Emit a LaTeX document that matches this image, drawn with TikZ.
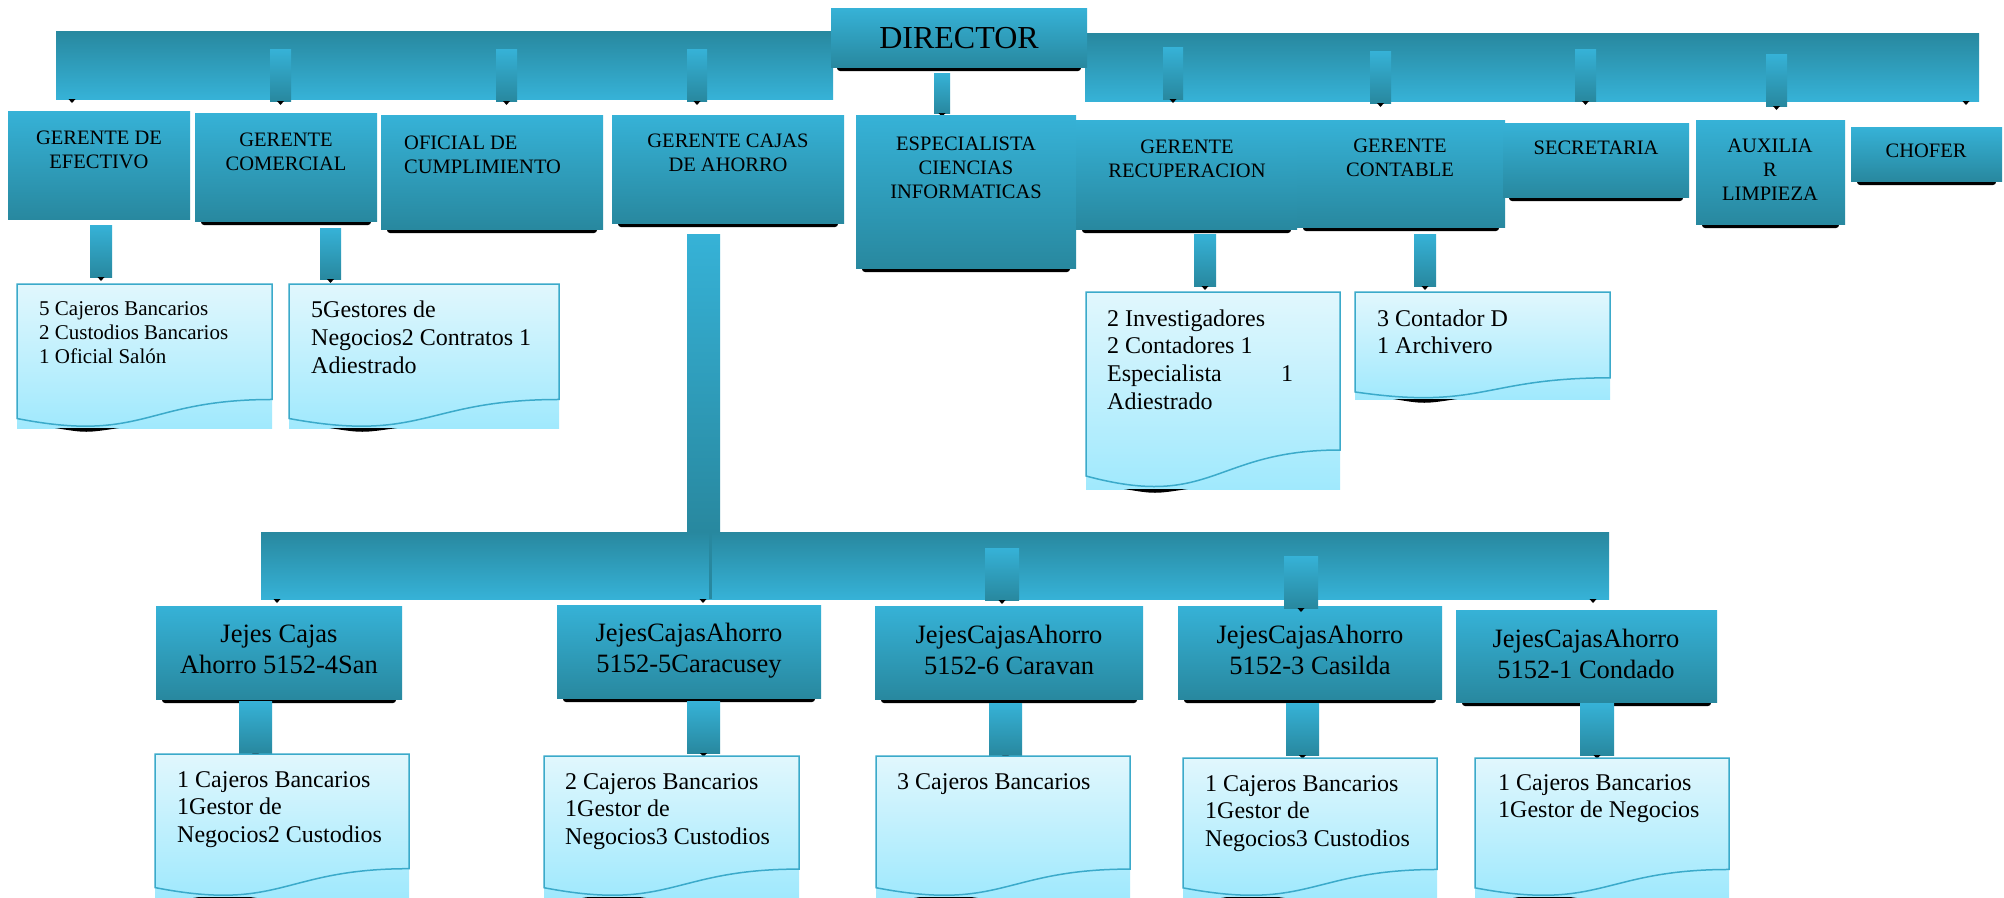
\documentclass[tikz,border=0pt]{standalone}
\usepackage{fontspec}
\setmainfont{Liberation Serif}
\definecolor{cl}{HTML}{36B2D7}
\definecolor{cd}{HTML}{28889F}
\definecolor{dl}{HTML}{E1F7FD}
\definecolor{dd}{HTML}{A0E9FD}
\definecolor{dline}{HTML}{3BAACA}
\newcommand\boxsh[4]{\fill[black,rounded corners=3pt] (#1+6,#4-6) rectangle (#3-6,#4+4);
  \shade[top color=cl,bottom color=cd] (#1,#2) rectangle (#3,#4);}
\newcommand\boxpl[4]{\shade[top color=cl,bottom color=cd] (#1,#2) rectangle (#3,#4);}
\newcommand\mybar[4]{\shade[top color=cd,bottom color=cl] (#1,#2) rectangle (#3,#4);}
\newcommand\mystub[4]{\shade[top color=cl,bottom color=cd] (#1,#2) rectangle (#3,#4);}
\newcommand\mytip[2]{\fill[black] (#1-3.5,#2) -- (#1+3.5,#2) -- (#1,#2+4) -- cycle;}
\newcommand\mydoc[4]{%
  \pgfmathsetmacro\docH{#4-#2}\pgfmathsetmacro\docM{(#1+#3)/2}\pgfmathsetmacro\docW{#3-#1}%
  \shade[top color=dl,bottom color=dd] (#1,#2) rectangle (#3,#4);
  \fill[black] (#1+0.15*\docW,#4) .. controls (#1+0.27*\docW,#4+5) .. (#1+0.40*\docW,#4) -- cycle;
  \draw[dline,line width=1.5pt] (#1,#2) -- (#3,#2) -- (#3,#2+0.802*\docH) .. controls (\docM,#2+0.802*\docH) and (\docM,#2+1.1075*\docH) .. (#1,#2+0.934*\docH) -- cycle;}
\tikzset{
  toplbl/.style={inner sep=0pt,anchor=base,font={\fontsize{20.5}{24}\selectfont}},
  jlbl/.style={inner sep=0pt,anchor=base,font={\fontsize{26.5}{31}\selectfont}},
  doclbl/.style={inner sep=0pt,anchor=base west,font={\fontsize{24}{27.7}\selectfont}},
}
\begin{document}
\begin{tikzpicture}[x=1pt,y=-1pt]
\useasboundingbox (0,0) rectangle (2004,897);
\fill[white] (0,0) rectangle (2004,897);
% top bars
\mybar{56}{31}{833}{99}
\mybar{1085}{33}{1979}{101}
\mystub{270}{49}{291}{101}\mytip{280.5}{101}
\mystub{496}{49}{517}{101}\mytip{506.5}{101}
\mystub{687}{49}{707}{101}\mytip{697}{101}
\mytip{72}{99}
\mystub{1163}{47}{1183}{99}\mytip{1173}{99}
\mystub{1370}{51}{1391}{103}\mytip{1380.5}{103}
\mystub{1575}{49}{1596}{101}\mytip{1585.5}{101}
\mystub{1766}{54}{1787}{106}\mytip{1776.5}{106}
\mytip{1966}{101}
% director
\boxsh{831}{8}{1087}{67}
\node[inner sep=0pt,anchor=base,font={\fontsize{32}{36}\selectfont}] (dir) at (959,48) {DIRECTOR};
\mystub{934}{73}{950}{113}\mytip{942}{113}
% top row boxes
\boxpl{8}{111}{190}{219}
\boxsh{195}{113}{377}{221}
\boxsh{381}{115}{603}{229}
\boxsh{612}{115}{844}{223}
\boxsh{856}{115}{1076}{268}
\boxsh{1076}{120}{1297}{229}
\boxsh{1297}{120}{1505}{227}
\boxsh{1503}{123}{1689}{197}
\boxsh{1696}{120}{1845}{224}
\boxsh{1851}{127}{2002}{181}
\node[toplbl] (efe) at (99,144) {\parbox[t]{200pt}{\centering GERENTE DE\\EFECTIVO}};
\node[toplbl] (com) at (286,146) {\parbox[t]{200pt}{\centering GERENTE\\COMERCIAL}};
\node[toplbl,anchor=base west] (ofi) at (404,149) {\parbox[t]{200pt}{\raggedright OFICIAL DE\\CUMPLIMIENTO}};
\node[toplbl] (caj) at (728,147) {\parbox[t]{220pt}{\centering GERENTE CAJAS\\DE AHORRO}};
\node[toplbl] (esp) at (966,150) {\parbox[t]{220pt}{\centering ESPECIALISTA\\CIENCIAS\\INFORMATICAS}};
\node[toplbl] (rec) at (1187,153) {\parbox[t]{220pt}{\centering GERENTE\\RECUPERACION}};
\node[toplbl] (con) at (1400,152) {\parbox[t]{200pt}{\centering GERENTE\\CONTABLE}};
\node[toplbl] (sec) at (1596,154) {SECRETARIA};
\node[toplbl] (aux) at (1770,152) {\parbox[t]{150pt}{\centering AUXILIA\\R\\LIMPIEZA}};
\node[toplbl] (cho) at (1926,157) {CHOFER};
% level 2 stubs
\mystub{90}{225}{112}{277}\mytip{101}{277}
\mystub{320}{228}{341}{279}\mytip{330.5}{279}
\mystub{1194}{234}{1216}{286}\mytip{1205}{286}
\mystub{1414}{234}{1436}{286}\mytip{1425}{286}
% docs upper
\mydoc{17}{284}{272}{428}
\mydoc{289}{284}{559}{428}
\mydoc{1086}{292}{1340}{489}
\mydoc{1355}{292}{1610}{399}
\node[doclbl,font={\fontsize{21}{24}\selectfont}] (d1) at (39,315) {\parbox[t]{230pt}{\raggedright 5 Cajeros Bancarios\\2 Custodios Bancarios\\1 Oficial Salón}};
\node[doclbl,font={\fontsize{24}{28}\selectfont}] (d2) at (311,317) {\parbox[t]{240pt}{\raggedright 5Gestores de\\Negocios2 Contratos 1\\Adiestrado}};
\node[doclbl] (d3) at (1107,326) {\parbox[t]{186pt}{2 Investigadores\\2 Contadores 1\\Especialista\hfill 1\\Adiestrado}};
\node[doclbl] (d4) at (1377,326) {\parbox[t]{220pt}{\raggedright 3 Contador D\\1 Archivero}};
% cajas connector and bottom bar
\mystub{687}{234}{720}{532}
\mybar{261}{532}{1609}{599}
\fill[cd] (709,532) rectangle (712,599);
\mytip{703}{599}
\mytip{277}{599}
\mytip{1593}{599}
\mystub{985}{548}{1019}{600}\mytip{1002}{600}
% jejes boxes
\boxsh{156}{606}{402}{699}
\boxsh{557}{605}{821}{698}
\boxsh{875}{606}{1143}{699}
\boxsh{1178}{606}{1442}{699}
\boxsh{1456}{610}{1717}{702}
\mystub{1284}{556}{1318}{608}\mytip{1301}{608}
\node[jlbl] (j1) at (279,642) {\parbox[t]{260pt}{\centering Jejes Cajas\\Ahorro 5152-4San}};
\node[jlbl] (j2) at (689,641) {\parbox[t]{260pt}{\centering JejesCajasAhorro\\5152-5Caracusey}};
\node[jlbl] (j3) at (1009,643) {\parbox[t]{260pt}{\centering JejesCajasAhorro\\5152-6 Caravan}};
\node[jlbl] (j4) at (1310,643) {\parbox[t]{260pt}{\centering JejesCajasAhorro\\5152-3 Casilda}};
\node[jlbl] (j5) at (1586,647) {\parbox[t]{260pt}{\centering JejesCajasAhorro\\5152-1 Condado}};
% level 3 stubs
\mystub{239}{701}{272}{753}\mytip{255.5}{753}
\mystub{687}{701}{720}{753}\mytip{703.5}{753}
\mystub{989}{703}{1022}{755}\mytip{1005.5}{755}
\mystub{1286}{703}{1319}{755}\mytip{1302.5}{755}
\mystub{1580}{703}{1614}{755}\mytip{1597}{755}
% bottom docs
\mydoc{155}{754}{409}{897}
\mydoc{544}{756}{799}{897}
\mydoc{876}{756}{1130}{897}
\mydoc{1183}{758}{1437}{897}
\mydoc{1475}{758}{1729}{897}
\node[doclbl] (d5) at (177,787) {\parbox[t]{240pt}{\raggedright 1 Cajeros Bancarios\\1Gestor de\\Negocios2 Custodios}};
\node[doclbl] (d6) at (565,789) {\parbox[t]{240pt}{\raggedright 2 Cajeros Bancarios\\1Gestor de\\Negocios3 Custodios}};
\node[doclbl] (d7) at (897,789) {\parbox[t]{240pt}{\raggedright 3 Cajeros Bancarios}};
\node[doclbl] (d8) at (1205,791) {\parbox[t]{240pt}{\raggedright 1 Cajeros Bancarios\\1Gestor de\\Negocios3 Custodios}};
\node[doclbl] (d9) at (1498,790) {\parbox[t]{240pt}{\raggedright 1 Cajeros Bancarios\\1Gestor de Negocios}};
\end{tikzpicture}
\end{document}
